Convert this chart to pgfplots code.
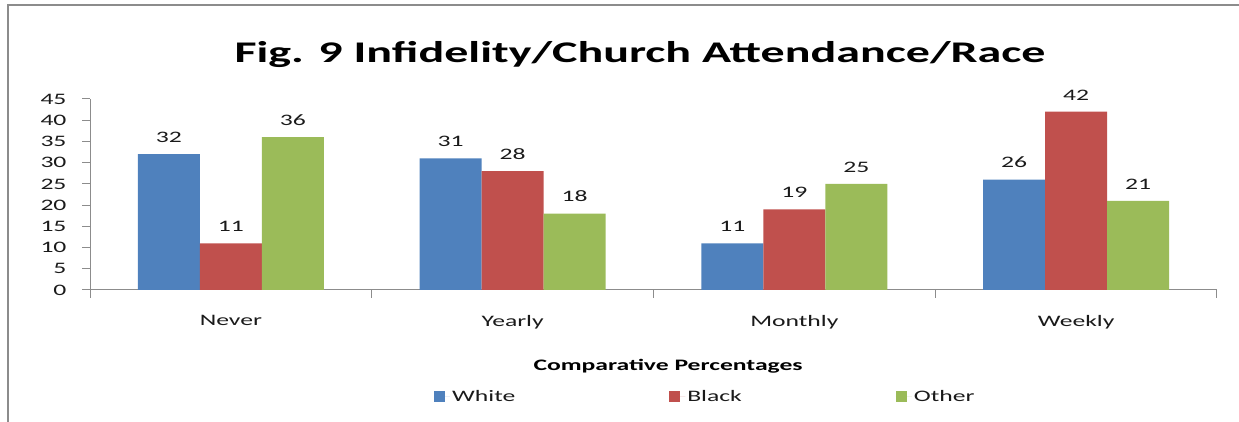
\documentclass[border=0pt]{standalone}
\usepackage{fontspec}
\setmainfont[FakeStretch=1.6]{Carlito}
\usepackage{pgfplots}
\pgfplotsset{compat=1.18}
\definecolor{cblue}{HTML}{4F81BD}
\definecolor{cred}{HTML}{C0504D}
\definecolor{cgreen}{HTML}{9BBB59}
\definecolor{axgray}{HTML}{8C8C8C}
\definecolor{txt}{HTML}{1A1A1A}
\begin{document}
\begin{tikzpicture}
\draw[axgray, line width=2pt] (8pt,0pt) -- (8pt,417pt) -- (1239pt,417pt);
\node[font=\fontsize{30}{34}\selectfont\bfseries, anchor=base, text=black] at (640pt,359pt) {Fig. 9 Infidelity/Church Attendance/Race};
\begin{axis}[
  at={(90pt,132pt)}, anchor=south west,
  scale only axis, width=1127pt, height=191pt,
  xmin=-0.5, xmax=3.5, ymin=0, ymax=45,
  axis lines*=left,
  axis line style={axgray, line width=1pt},
  ytick={0,5,...,45},
  xtick={0,1,2,3},
  xticklabels={Never,Yearly,Monthly,Weekly},
  minor xtick={-0.5,0.5,1.5,2.5,3.5},
  tick align=outside,
  major tick length=8pt, minor tick length=8pt,
  x tick style={draw=none},
  minor x tick style={draw=axgray, line width=1pt},
  y tick style={draw=axgray, line width=1pt},
  ticklabel style={font=\fontsize{16}{18}\selectfont, text=txt},
  /pgf/number format/assume math mode=true,
  xticklabel style={yshift=-14pt},
  yticklabel style={xshift=-12pt},
  xlabel={\textbf{Comparative Percentages}},
  xlabel style={at={(axis description cs:0.513,0)}, anchor=center, yshift=-76pt, font=\fontsize{16}{18}\selectfont, text=black},
  ybar=0pt, bar width=0.22,
  nodes near coords,
  every node near coord/.append style={font=\fontsize{16}{18}\selectfont, text=txt, yshift=8pt},
  legend columns=3,
  legend style={at={(axis description cs:0.546,-0.56)}, anchor=center, draw=none, fill=none,
    font=\fontsize{16}{18}\selectfont, text=txt,
    /tikz/every even column/.append style={column sep=152pt}},
  legend image code/.code={\fill[#1] (0pt,-5pt) rectangle (11pt,6pt); \path (0pt,0pt) -- (16pt,0pt);},
  clip=false,
]
\addplot[fill=cblue, draw=none, bar shift=-0.22] coordinates {(0,32) (1,31) (2,11) (3,26)};
\addplot[fill=cred, draw=none, bar shift=0] coordinates {(0,11) (1,28) (2,19) (3,42)};
\addplot[fill=cgreen, draw=none, bar shift=0.22] coordinates {(0,36) (1,18) (2,25) (3,21)};
\legend{White,Black,Other}
\end{axis}
\pgfresetboundingbox
\path[use as bounding box] (0pt,0pt) rectangle (1239pt,422pt);
\end{tikzpicture}
\end{document}
